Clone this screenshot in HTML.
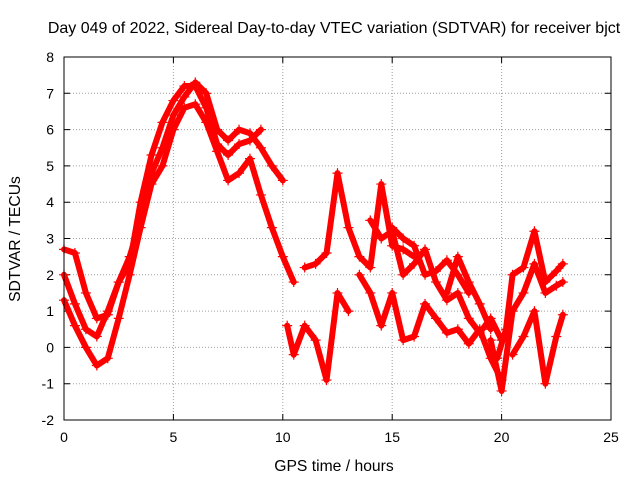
<!DOCTYPE html>
<html><head><meta charset="utf-8"><style>
html,body{margin:0;padding:0;background:#fff;}
svg{display:block;font-family:"Liberation Sans",sans-serif;}
</style></head><body>
<svg id="chart" width="640" height="480">
<text x="334" y="33" font-size="16" text-anchor="middle">Day 049 of 2022, Sidereal Day-to-day VTEC variation (SDTVAR) for receiver bjct</text>
<text x="334" y="471" font-size="15.7" text-anchor="middle">GPS time / hours</text>
<text x="20" y="239" font-size="15.7" text-anchor="middle" transform="rotate(-90 20 239)">SDTVAR / TECUs</text>
<g id="grid"></g><g id="ticks"></g><g id="marks"></g>
<rect x="64" y="57" width="547" height="363" fill="none" stroke="#000" stroke-width="1"/>
</svg>
<script>
const xTicks=[0,5,10,15,20,25];
const yTicks=[-2,-1,0,1,2,3,4,5,6,7,8];
const trackA_t=[0,0.5,1,1.5,2,2.5,3,3.5,4,4.5,5,5.5,6,6.5,7,7.5,8,8.5,9,9.5,10];
const trackA_v=[2.7,2.6,1.5,0.8,0.9,1.8,2.5,3.5,4.8,5.5,6.4,6.9,7.3,7.0,6.0,5.7,6.0,5.9,5.5,5.0,4.6];
const trackB_t=[0,0.5,1,1.5,2,2.5,3,3.5,4,4.5,5,5.5,6,6.5,7,7.5,8,8.5,9,9.5,10,10.5];
const trackB_v=[1.3,0.6,0,-0.5,-0.3,0.8,2.0,3.3,4.5,5.0,6.0,6.6,6.7,6.2,5.4,4.6,4.8,5.2,4.2,3.3,2.5,1.8];
const trackC_t=[0,0.5,1,1.5,2,2.5,3,3.5,4,4.5,5,5.5,6,6.5,7,7.5,8,8.5,9];
const trackC_v=[2.0,1.2,0.5,0.3,1.0,1.8,2.3,4.0,5.3,6.2,6.8,7.2,7.2,6.6,5.6,5.3,5.6,5.7,6.0];
const trackD_t=[10.2,10.5,11,11.5,12,12.5,13];
const trackD_v=[0.6,-0.2,0.6,0.2,-0.9,1.5,1.0];
const trackE_t=[11,11.5,12,12.5,13,13.5,14,14.5,15,15.5,16];
const trackE_v=[2.2,2.3,2.6,4.8,3.3,2.5,2.2,4.5,2.8,2.7,2.5];
const trackF_t=[13.5,14,14.5,15,15.5,16,16.5,17,17.5,18,18.5,19,19.5,20];
const trackF_v=[2.0,1.5,0.6,1.5,0.2,0.3,1.2,0.8,0.4,0.5,0.1,0.5,-0.3,-0.9];
const trackG_t=[14,14.5,15,15.5,16,16.5,17,17.5,18,18.5,19,19.5,20];
const trackG_v=[3.5,3.0,3.2,2.0,2.3,2.7,1.8,1.3,1.5,0.8,0.4,0.8,0.2];
const trackH_t=[15,15.5,16,16.5,17,17.5,18,18.5];
const trackH_v=[3.3,3.0,2.8,2.0,2.1,2.4,2.0,1.5];
const trackI_t=[19.8,20.2,20.5,21,21.5,22,22.5,22.8];
const trackI_v=[-0.3,0.5,2.0,2.2,3.2,1.8,2.1,2.3];
const trackJ_t=[19.5,20,20.5,21,21.5,22,22.5,22.8];
const trackJ_v=[0.2,-1.2,1.0,1.5,2.3,1.5,1.7,1.8];
const trackK_t=[20.5,21,21.5,22,22.5,22.8];
const trackK_v=[-0.2,0.3,1.0,-1.0,0.3,0.9];
const trackL_t=[17.5,18,18.5,19,19.5];
const trackL_v=[1.5,2.5,1.8,1.2,0.5];
const tracks=[[trackA_t,trackA_v],[trackB_t,trackB_v],[trackC_t,trackC_v],[trackD_t,trackD_v],[trackE_t,trackE_v],[trackF_t,trackF_v],[trackG_t,trackG_v],[trackH_t,trackH_v],[trackI_t,trackI_v],[trackJ_t,trackJ_v],[trackK_t,trackK_v],[trackL_t,trackL_v]];
const NS="http://www.w3.org/2000/svg";
const L=64,R=611,T=57,B=420;
function xs(t){return L+(t-0)/25*(R-L);}
function ys(v){return B-(v+2)/10*(B-T);}
function mk(tag,attrs,parent){const e=document.createElementNS(NS,tag);for(const k in attrs)e.setAttribute(k,attrs[k]);parent.appendChild(e);return e;}
const grid=document.getElementById('grid'),ticks=document.getElementById('ticks'),marks=document.getElementById('marks');
xTicks.forEach(t=>{const x=xs(t);
 if(t>0&&t<25){const g=mk('line',{x1:x,x2:x,y1:T,y2:B,stroke:'#a0a0a0','stroke-dasharray':'1,2','stroke-width':1},grid);
 
 }
 const tk=mk('path',{d:`M${x},${B}v-6M${x},${T}v6`,stroke:'#000'},ticks);
 
 
 const lb=mk('text',{x:x,y:B+22,'font-size':14,'text-anchor':'middle'},ticks);lb.textContent=t;
 
 
});
yTicks.forEach(v=>{const y=ys(v);
 if(v>-2&&v<8){const g=mk('line',{x1:L,x2:R,y1:y,y2:y,stroke:'#a0a0a0','stroke-dasharray':'1,2','stroke-width':1},grid);
 
 }
 const tk=mk('path',{d:`M${L},${y}h6M${R},${y}h-6`,stroke:'#000'},ticks);
 
 
 const lb=mk('text',{x:L-10,y:y+5,'font-size':14,'text-anchor':'end'},ticks);lb.textContent=v;
 
 
});
tracks.forEach((tr,i)=>{const [ts,vs]=tr;
 const pts=ts.map((t,j)=>xs(t)+','+ys(vs[j])).join(' ');
 const pl=mk('polyline',{points:pts,fill:'none',stroke:'#ff0000','stroke-width':6,'stroke-linejoin':'round','stroke-linecap':'round'},marks);
 
 
 ts.forEach((t,j)=>{const x=xs(t),y=ys(vs[j]);
  const p=mk('path',{d:`M${x-5},${y}h10M${x},${y-5}v10`,stroke:'#ff0000','stroke-width':1.2},marks);
  
  
 });
});
</script>
</body></html>
